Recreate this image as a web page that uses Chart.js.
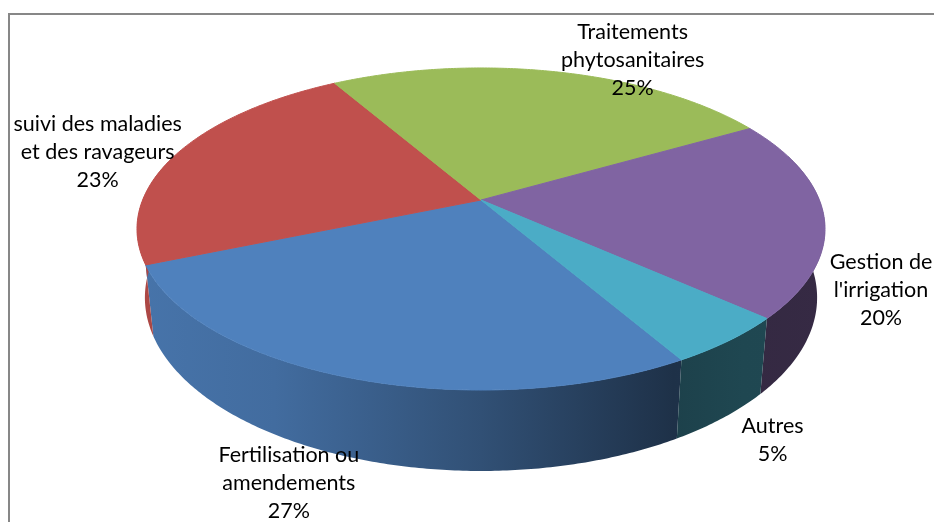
<!DOCTYPE html>
<html>
<head>
<meta charset="utf-8">
<script src="https://cdn.jsdelivr.net/npm/chart.js@4.4.0/dist/chart.umd.min.js"></script>
<style>
  body { margin: 0; background: #fff; }
  #wrap { position: relative; width: 934px; height: 522px; }
  #frame {
    position: absolute; left: 8px; top: 13px; right: 0; bottom: 0;
    border-left: 2px solid #878787; border-top: 2px solid #878787;
  }
</style>
</head>
<body>
<div id="wrap">
  <div id="frame"></div>
  <canvas id="myChart"></canvas>
</div>
<script>
// survey answers, in sheet order
const categories = [
  ["Fertilisation ou", "amendements"],
  ["suivi des maladies", "et des ravageurs"],
  ["Traitements", "phytosanitaires"],
  ["Gestion de", "l'irrigation"],
  ["Autres"],
];
const shares = [27, 23, 25, 20, 5];
const sliceColors = ["#4f81bd", "#c0504d", "#9bbb59", "#8064a2", "#4bacc6"];

// 3d look: stretch / squash of the disc, perspective, thickness
const tilt = { sx: 1.692, sy: 0.779, persp: 0.18, depth: 0.332, shrink: 0.977 };
// wall shading from left to right
const wallShade = [[0, 0.9], [0.2, 0.84], [0.5, 0.62], [0.78, 0.38], [0.88, 0.41], [1, 0.42]];
// label nudges from the rim point at each slice's middle
const labelNudge = [[-62, 105], [-80, -1], [77, -12], [57, 73], [44, 99]];

function rimPoint(arc, ang, bottom) {
  const r = arc.outerRadius;
  const w = 1 - tilt.persp * Math.sin(ang);
  const dx = (r * tilt.sx * Math.cos(ang)) / w;
  const dy = (r * tilt.sy * Math.sin(ang)) / w;
  if (!bottom) return [arc.x + dx, arc.y + dy];
  return [arc.x + dx * tilt.shrink, arc.y + dy + (r * tilt.depth) / w];
}

function shade(hex, f) {
  const n = parseInt(hex.slice(1), 16);
  const c = [(n >> 16) & 255, (n >> 8) & 255, n & 255].map((v) => Math.round(v * f));
  return "rgb(" + c.join(",") + ")";
}

function rimPath(ctx, arc, a, b, bottom, reverse) {
  const n = Math.max(2, Math.ceil(Math.abs(b - a) / 0.01));
  for (let i = 0; i <= n; i++) {
    const t = reverse ? b - ((b - a) * i) / n : a + ((b - a) * i) / n;
    const p = rimPoint(arc, t, bottom);
    ctx.lineTo(p[0], p[1]);
  }
}

// only the front part of the side wall can be seen
function frontParts(s, e) {
  const parts = [];
  const lo = -0.3, hi = Math.PI + 0.3;
  for (let k = -1; k <= 2; k++) {
    const a = Math.max(s, lo + k * 2 * Math.PI);
    const b = Math.min(e, hi + k * 2 * Math.PI);
    if (b > a) parts.push([a, b]);
  }
  return parts;
}

const pie3d = {
  id: "pie3d",
  beforeDatasetsDraw(chart) {
    const ctx = chart.ctx;
    const arcs = chart.getDatasetMeta(0).data;
    const colors = chart.data.datasets[0].backgroundColor;
    const values = chart.data.datasets[0].data;
    const total = values.reduce((a, b) => a + b, 0);
    ctx.save();

    // side walls
    arcs.forEach((arc, i) => {
      const r = arc.outerRadius;
      const half = (r * tilt.sx) / Math.sqrt(1 - tilt.persp * tilt.persp);
      const grad = ctx.createLinearGradient(arc.x - half, 0, arc.x + half, 0);
      wallShade.forEach(([pos, f]) => grad.addColorStop(pos, shade(colors[i], f)));
      frontParts(arc.startAngle, arc.endAngle).forEach(([a, b]) => {
        ctx.beginPath();
        rimPath(ctx, arc, a, b, false, false);
        rimPath(ctx, arc, a, b, true, true);
        ctx.closePath();
        ctx.fillStyle = grad;
        ctx.fill();
      });
    });

    // top faces
    arcs.forEach((arc, i) => {
      ctx.beginPath();
      ctx.moveTo(arc.x, arc.y);
      rimPath(ctx, arc, arc.startAngle, arc.endAngle, false, false);
      ctx.closePath();
      ctx.fillStyle = colors[i];
      ctx.strokeStyle = colors[i];
      ctx.lineWidth = 1;
      ctx.fill();
      ctx.stroke();
    });

    // labels
    ctx.font = "21.5px Lato";
    ctx.fillStyle = "#000";
    ctx.textAlign = "center";
    ctx.textBaseline = "middle";
    const lh = 28;
    arcs.forEach((arc, i) => {
      const mid = (arc.startAngle + arc.endAngle) / 2;
      const p = rimPoint(arc, mid, false);
      const lines = [].concat(chart.data.labels[i], Math.round((values[i] / total) * 100) + "%");
      const x = p[0] + labelNudge[i][0];
      const y0 = p[1] + labelNudge[i][1] - ((lines.length - 1) * lh) / 2;
      lines.forEach((txt, j) => ctx.fillText(txt, x, y0 + j * lh));
    });

    ctx.restore();
    return false;
  },
};

const ctx = document.getElementById("myChart");

new Chart(ctx, {
  type: "pie",
  data: {
    labels: categories,
    datasets: [
      {
        data: shares,
        backgroundColor: sliceColors,
        borderWidth: 0,
      },
    ],
  },
  options: {
    responsive: true,
    maintainAspectRatio: false,
    animation: false,
    rotation: 150,
    layout: { padding: { left: 28, right: 0, top: 0, bottom: 122 } },
    plugins: {
      legend: { display: false },
      tooltip: { enabled: false },
    },
  },
  plugins: [pie3d],
});
</script>
</body>
</html>
